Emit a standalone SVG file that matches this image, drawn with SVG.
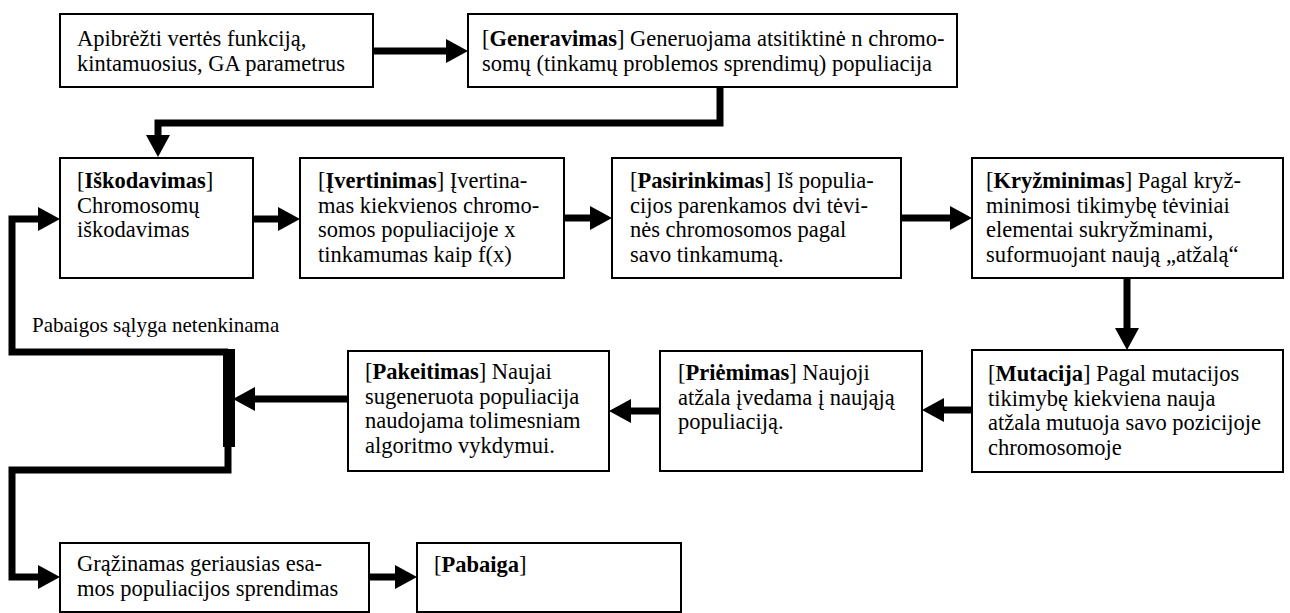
<svg xmlns="http://www.w3.org/2000/svg" width="1290" height="613" viewBox="0 0 1290 613">
  <style>
    .box { fill: #fff; stroke: #000; stroke-width: 2; }
    .t { font-family: "Liberation Serif", "Times New Roman", serif; font-size: 22.5px; fill: #000; }
    .lbl { font-family: "Liberation Serif", "Times New Roman", serif; font-size: 21px; fill: #000; }
    .b { font-weight: bold; }
    .wire { fill: none; stroke: #000; stroke-width: 7; stroke-linejoin: miter; }
  </style>
  <defs>
    <marker id="head" markerUnits="userSpaceOnUse" markerWidth="24" markerHeight="26" refX="0" refY="12" orient="auto">
      <path d="M0,0 L22,12 L0,24 Z" fill="#000"/>
    </marker>
  </defs>

  <rect width="1290" height="613" fill="#fff"/>

  <!-- connectors -->
  <g id="connectors">
    <path class="wire" d="M373,51 H446" marker-end="url(#head)"/>
    <path class="wire" d="M720,87 V123 H158 V135" marker-end="url(#head)"/>
    <path class="wire" d="M253,219 H278" marker-end="url(#head)"/>
    <path class="wire" d="M564,218 H590" marker-end="url(#head)"/>
    <path class="wire" d="M901,218 H950" marker-end="url(#head)"/>
    <path class="wire" d="M1127,278 V328" marker-end="url(#head)"/>
    <path class="wire" d="M972,410 H944" marker-end="url(#head)"/>
    <path class="wire" d="M660,411 H631" marker-end="url(#head)"/>
    <path class="wire" d="M348,399 H255" marker-end="url(#head)"/>
    <!-- decision bar -->
    <rect x="223" y="349" width="12" height="98" fill="#000"/>
    <!-- loop back when the stop condition is not met -->
    <path class="wire" d="M228,352 H12 V219 H38" marker-end="url(#head)"/>
    <!-- exit to result -->
    <path class="wire" d="M228,446 V470 H12 V577 H38" marker-end="url(#head)"/>
    <path class="wire" d="M369,577 H395" marker-end="url(#head)"/>
    <text class="lbl" x="32" y="332">Pabaigos sąlyga netenkinama</text>
  </g>

  <g id="n-define">
    <rect class="box" x="60" y="14" width="313" height="73"/>
    <text class="t" x="77" y="46">Apibrėžti vertės funkciją,</text>
    <text class="t" x="77" y="70.5">kintamuosius, GA parametrus</text>
  </g>

  <g id="n-generate">
    <rect class="box" x="468" y="14" width="489" height="73"/>
    <text class="t" x="482" y="46">[<tspan class="b">Generavimas</tspan>] Generuojama atsitiktinė n chromo-</text>
    <text class="t" x="482" y="70.5">somų (tinkamų problemos sprendimų) populiacija</text>
  </g>

  <g id="n-decode">
    <rect class="box" x="60" y="158" width="193" height="120"/>
    <text class="t" x="77" y="188">[<tspan class="b">Iškodavimas</tspan>]</text>
    <text class="t" x="77" y="212.5">Chromosomų</text>
    <text class="t" x="77" y="237">iškodavimas</text>
  </g>

  <g id="n-evaluate">
    <rect class="box" x="300" y="158" width="264" height="120"/>
    <text class="t" x="318" y="188">[<tspan class="b">Įvertinimas</tspan>] Įvertina-</text>
    <text class="t" x="318" y="212.5">mas kiekvienos chromo-</text>
    <text class="t" x="318" y="237">somos populiacijoje x</text>
    <text class="t" x="318" y="261.5">tinkamumas kaip f(x)</text>
  </g>

  <g id="n-select">
    <rect class="box" x="612" y="158" width="289" height="120"/>
    <text class="t" x="630" y="188">[<tspan class="b">Pasirinkimas</tspan>] Iš populia-</text>
    <text class="t" x="630" y="212.5">cijos parenkamos dvi tėvi-</text>
    <text class="t" x="630" y="237">nės chromosomos pagal</text>
    <text class="t" x="630" y="261.5">savo tinkamumą.</text>
  </g>

  <g id="n-crossover">
    <rect class="box" x="972" y="158" width="311" height="120"/>
    <text class="t" x="986" y="188">[<tspan class="b">Kryžminimas</tspan>] Pagal kryž-</text>
    <text class="t" x="986" y="212.5">minimosi tikimybę tėviniai</text>
    <text class="t" x="986" y="237">elementai sukryžminami,</text>
    <text class="t" x="986" y="261.5">suformuojant naują „atžalą“</text>
  </g>

  <g id="n-mutate">
    <rect class="box" x="972" y="350" width="311" height="122"/>
    <text class="t" x="988" y="381">[<tspan class="b">Mutacija</tspan>] Pagal mutacijos</text>
    <text class="t" x="988" y="405.5">tikimybę kiekviena nauja</text>
    <text class="t" x="988" y="430">atžala mutuoja savo pozicijoje</text>
    <text class="t" x="988" y="454.5">chromosomoje</text>
  </g>

  <g id="n-accept">
    <rect class="box" x="660" y="351" width="262" height="120"/>
    <text class="t" x="678" y="380">[<tspan class="b">Priėmimas</tspan>] Naujoji</text>
    <text class="t" x="678" y="404.5">atžala įvedama į naująją</text>
    <text class="t" x="678" y="429">populiaciją.</text>
  </g>

  <g id="n-replace">
    <rect class="box" x="348" y="351" width="261" height="120"/>
    <text class="t" x="365" y="379">[<tspan class="b">Pakeitimas</tspan>] Naujai</text>
    <text class="t" x="365" y="403.5">sugeneruota populiacija</text>
    <text class="t" x="365" y="428">naudojama tolimesniam</text>
    <text class="t" x="365" y="452.5">algoritmo vykdymui.</text>
  </g>

  <g id="n-result">
    <rect class="box" x="60" y="543" width="309" height="69"/>
    <text class="t" x="77" y="571">Grąžinamas geriausias esa-</text>
    <text class="t" x="77" y="596">mos populiacijos sprendimas</text>
  </g>

  <g id="n-end">
    <rect class="box" x="417" y="543" width="264" height="69"/>
    <text class="t" x="434" y="572">[<tspan class="b">Pabaiga</tspan>]</text>
  </g>
</svg>
